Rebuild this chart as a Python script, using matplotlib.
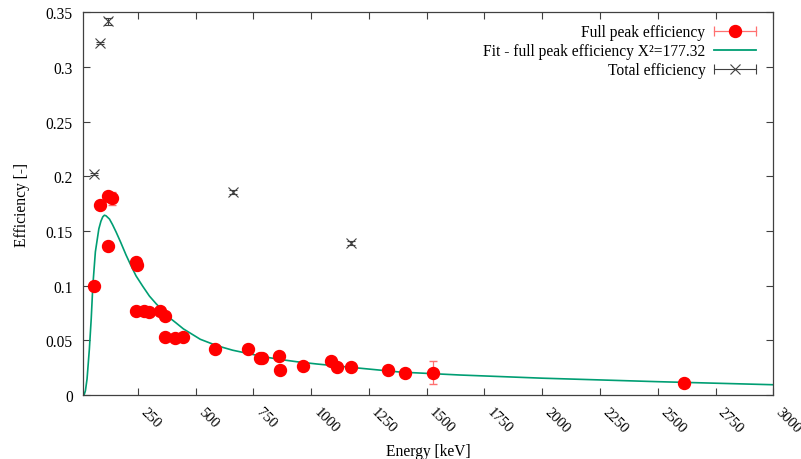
import matplotlib
matplotlib.use('Agg')
import matplotlib.pyplot as plt
from matplotlib.lines import Line2D
from matplotlib.legend_handler import HandlerLine2D

plt.rcParams['font.family'] = ['Liberation Serif', 'DejaVu Serif']

# full peak efficiency
peak_E = [59.5, 88, 122, 136, 122, 242, 245, 242, 277, 300, 344, 366,
          366, 411, 444, 583, 727, 779, 786, 861, 866, 964, 1084, 1112,
          1173, 1333, 1408, 1529, 2614]
peak_eff = [0.100, 0.174, 0.182, 0.180, 0.1365, 0.1216, 0.1185, 0.0773,
            0.0770, 0.0758, 0.0765, 0.0721, 0.0527, 0.0525, 0.0534, 0.0421,
            0.0417, 0.0339, 0.0337, 0.0353, 0.0232, 0.0263, 0.0309, 0.0256,
            0.0254, 0.0229, 0.0199, 0.0204, 0.0110]
peak_err = [0.002, 0.002, 0.002, 0.006, 0.002, 0.002, 0.002, 0.002,
            0.002, 0.002, 0.002, 0.002, 0.002, 0.002, 0.002, 0.002,
            0.002, 0.002, 0.002, 0.002, 0.002, 0.002, 0.002, 0.002,
            0.002, 0.002, 0.002, 0.0107, 0.001]

# total efficiency
tot_E = [59.5, 88, 122, 662, 1173]
tot_eff = [0.202, 0.322, 0.342, 0.186, 0.139]
tot_err = [0.001, 0.001, 0.003, 0.002, 0.002]

# fit curve
fit_E = [17, 23, 30, 40, 48, 55, 66, 81, 90, 98, 105, 112, 127, 140, 156,
         175, 199, 221, 242, 271, 300, 329, 358, 385, 415, 447, 520, 591,
         660, 736, 800, 880, 950, 1024, 1168, 1385, 1644, 2000, 2500, 3000]
fit_eff = [0.0, 0.004, 0.0147, 0.042, 0.0696, 0.100, 0.131, 0.152, 0.159,
           0.163, 0.1645, 0.164, 0.161, 0.156, 0.149, 0.140, 0.128, 0.118,
           0.109, 0.0995, 0.0905, 0.0835, 0.0773, 0.071, 0.066, 0.0605,
           0.051, 0.0452, 0.0410, 0.0376, 0.0348, 0.0321, 0.0301, 0.0284,
           0.0254, 0.0210, 0.0183, 0.0154, 0.0122, 0.0094]

xticks = [250, 500, 750, 1000, 1250, 1500, 1750, 2000, 2250, 2500, 2750, 3000]
yticks = [0, 0.05, 0.1, 0.15, 0.2, 0.25, 0.3, 0.35]
ylabels = ['0', '0.05', '0.1', '0.15', '0.2', '0.25', '0.3', '0.35']

red = '#ff0000'
pink = '#ff7070'
green = '#009e73'
grey = '#404040'
fs = 11.2

fig = plt.figure(figsize=(8.01, 4.6), dpi=100)
ax = fig.add_axes([0.1032, 0.1391, 0.8622, 0.8316])

ax.errorbar(peak_E, peak_eff, yerr=peak_err, fmt='o', color=red, ms=8.6,
            ecolor=pink, elinewidth=0.9, capsize=3, zorder=3)
ax.plot(fit_E, fit_eff, color=green, lw=1.2, zorder=2)
ax.errorbar(tot_E, tot_eff, yerr=tot_err, fmt='x', color=grey, ms=7,
            mew=0.8, ecolor=grey, elinewidth=0.8, capsize=3, zorder=3)

ax.set_xlim(11, 3000)
ax.set_ylim(0, 0.35)
ax.set_xticks(xticks)
ax.set_xticklabels([str(t) for t in xticks], rotation=-45, ha='left',
                   va='top', fontsize=10.6)
ax.set_yticks(yticks)
ax.set_yticklabels(ylabels, fontsize=fs)
ax.tick_params(direction='in', length=5, width=0.8, color=grey,
               top=True, right=True, pad=7)
for s in ax.spines.values():
    s.set_color(grey)
    s.set_linewidth(0.9)

ax.set_xlabel('Energy [keV]', fontsize=fs)
ax.xaxis.set_label_coords(0.5, -0.125)
ax.set_ylabel('Efficiency [-]', fontsize=fs, labelpad=11)

# legend samples in gnuplot style: bar with end caps, symbol in the middle
cap_red = Line2D([], [], color=pink, lw=0.9, marker='|', ms=7, mew=0.9)
dot_red = Line2D([], [], color=red, ls='none', marker='o', ms=8.6)
fit_line = Line2D([], [], color=green, lw=1.3)
cap_grey = Line2D([], [], color=grey, lw=0.8, marker='|', ms=7, mew=0.8)
x_grey = Line2D([], [], color=grey, ls='none', marker='x', ms=7, mew=0.8)
hm = {cap_red: HandlerLine2D(numpoints=2, marker_pad=0),
      cap_grey: HandlerLine2D(numpoints=2, marker_pad=0)}
leg = ax.legend([(cap_red, dot_red), fit_line, (cap_grey, x_grey)],
                ['Full peak efficiency',
                 'Fit - full peak efficiency X\u00b2=177.32',
                 'Total efficiency'],
                handler_map=hm, loc='upper right', markerfirst=False,
                frameon=False, fontsize=fs, handlelength=2.7,
                handletextpad=0.55, labelspacing=0.2,
                bbox_to_anchor=(0.995, 1.006))

fig.savefig('out.png', dpi=100)
